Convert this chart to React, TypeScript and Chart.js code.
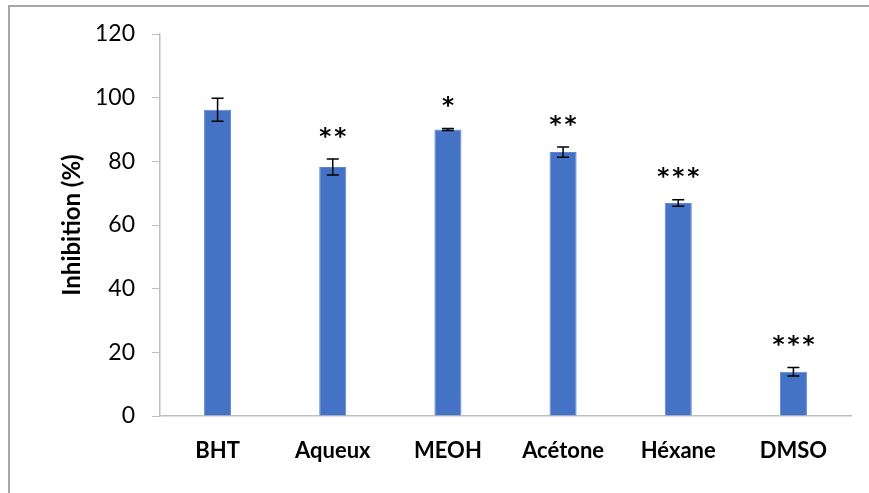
import React, { useEffect, useRef } from "react";
import { Chart, registerables } from "chart.js";

Chart.register(...registerables);

const categories = ["BHT", "Aqueux", "MEOH", "Acétone", "Héxane", "DMSO"];
const inhibition = [96.2, 78.2, 90.0, 82.9, 66.9, 13.9];
const errors = [3.6, 2.5, 0.3, 1.6, 1.0, 1.3];
const significance = ["", "**", "*", "**", "***", "***"];
const yTicks = [0, 20, 40, 60, 80, 100, 120];

const FONT = "Lato, 'Open Sans', sans-serif";
const STAR_FONT = "bold 23px 'DejaVu Sans', sans-serif";

const framePlugin = {
  id: "frame",
  beforeDraw(chart: any) {
    const ctx = chart.ctx;
    ctx.save();
    ctx.strokeStyle = "#a6a6a6";
    ctx.lineWidth = 2;
    ctx.beginPath();
    ctx.moveTo(9, chart.height);
    ctx.lineTo(9, 6);
    ctx.lineTo(chart.width, 6);
    ctx.stroke();
    ctx.restore();
  },
};

const errorPlugin = {
  id: "errorBars",
  afterDatasetsDraw(chart: any) {
    const ctx = chart.ctx;
    const meta = chart.getDatasetMeta(0);
    const y = chart.scales.y;
    ctx.save();
    ctx.strokeStyle = "#000";
    ctx.lineWidth = 1.5;
    meta.data.forEach((bar: any, i: number) => {
      const v = inhibition[i];
      const e = errors[i];
      const yt = y.getPixelForValue(v + e);
      const yb = y.getPixelForValue(v - e);
      const x = bar.x;
      const cap = 6;
      ctx.beginPath();
      ctx.moveTo(x, yt);
      ctx.lineTo(x, yb);
      ctx.moveTo(x - cap, yt);
      ctx.lineTo(x + cap, yt);
      ctx.moveTo(x - cap, yb);
      ctx.lineTo(x + cap, yb);
      ctx.stroke();
      const s = significance[i];
      if (s) {
        ctx.fillStyle = "#000";
        ctx.font = STAR_FONT;
        ctx.textAlign = "center";
        ctx.textBaseline = "alphabetic";
        const m = ctx.measureText("*");
        const asc = m.actualBoundingBoxAscent;
        const desc = m.actualBoundingBoxDescent;
        const cy = yt - 27;
        const baseY = cy + (asc - desc) / 2;
        const n = s.length;
        const pitch = 15;
        for (let k = 0; k < n; k++) {
          const cx = x + (k - (n - 1) / 2) * pitch;
          ctx.fillText("*", cx, baseY);
        }
      }
    });
    ctx.restore();
  },
};

export default function App() {
  const ref = useRef<HTMLCanvasElement>(null);
  useEffect(() => {
    if (!ref.current) return;
    const chart = new Chart(ref.current, {
      type: "bar",
      data: {
        labels: categories,
        datasets: [
          {
            data: inhibition,
            backgroundColor: "#4472C4",
            borderColor: "#5b86d4",
            borderWidth: 1,
            categoryPercentage: 1,
            barPercentage: 0.235,
          },
        ],
      },
      options: {
        animation: false,
        responsive: false,
        maintainAspectRatio: false,
        layout: { padding: { left: 50, right: 18, top: 34, bottom: 0 } },
        plugins: { legend: { display: false }, tooltip: { enabled: false } },
        scales: {
          x: {
            grid: { display: false, drawTicks: false },
            border: { display: true, color: "#bfbfbf", width: 1.5 },
            ticks: {
              color: "#000",
              font: { family: FONT, size: 22, weight: "bold" },
              padding: 22,
            },
            afterFit(scale: any) {
              scale.height = 77;
            },
          },
          y: {
            min: 0,
            max: 120,
            afterBuildTicks(scale: any) {
              scale.ticks = yTicks.map((v) => ({ value: v }));
            },
            grid: {
              drawOnChartArea: false,
              drawTicks: true,
              tickLength: 8,
              color: "#bfbfbf",
            },
            border: { display: true, color: "#bfbfbf", width: 1.5 },
            ticks: {
              color: "#000",
              font: { family: FONT, size: 23 },
              padding: 17,
            },
            title: {
              display: true,
              text: "Inhibition (%)",
              color: "#000",
              font: { family: FONT, size: 24, weight: "bold" },
              padding: { top: 8, bottom: 0 },
            },
            afterFit(scale: any) {
              scale.width = 110;
            },
          },
        },
      },
      plugins: [framePlugin, errorPlugin],
    });
    return () => chart.destroy();
  }, []);
  return (
    <div style={{ position: "fixed", left: 0, top: 0, width: 869, height: 493, background: "#fff" }}>
      <canvas ref={ref} width={869} height={493} style={{ display: "block" }} />
    </div>
  );
}
